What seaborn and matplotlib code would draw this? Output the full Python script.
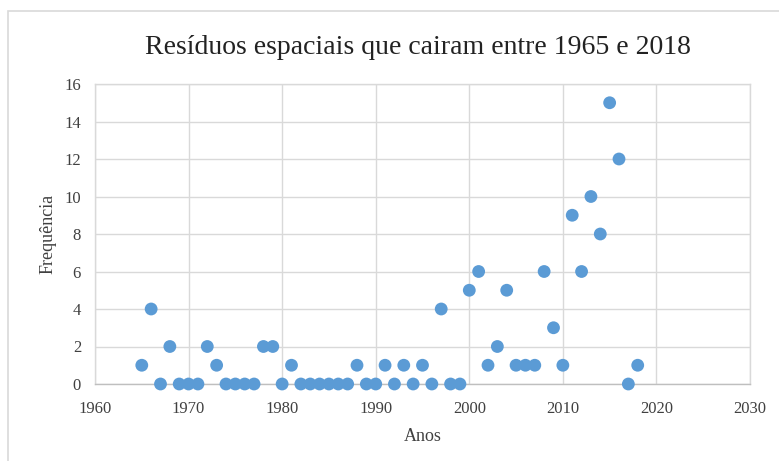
import numpy as np
import pandas as pd
import matplotlib.pyplot as plt
import seaborn as sns
from matplotlib.patches import Rectangle


# ==================================================
# DATA
# ==================================================
anos = list(range(1965, 2019))
frequencia = [
    1, 4, 0, 2, 0, 0, 0, 2, 1, 0,   # 1965-1974
    0, 0, 0, 2, 2, 0, 1, 0, 0, 0,   # 1975-1984
    0, 0, 0, 1, 0, 0, 1, 0, 1, 0,   # 1985-1994
    1, 0, 4, 0, 0, 5, 6, 1, 2, 5,   # 1995-2004
    1, 1, 1, 6, 3, 1, 9, 6, 10, 8,  # 2005-2014
    15, 12, 0, 1,                   # 2015-2018
]
x_ticks = list(range(1960, 2031, 10))
y_ticks = list(range(0, 17, 2))

df = pd.DataFrame({"Anos": anos, "Frequência": frequencia})

# ==================================================
# FIGURE
# ==================================================
sns.set_style("white")
plt.rcParams["font.family"] = ["Liberation Serif", "DejaVu Serif"]

fig = plt.figure(figsize=(7.79, 4.61), dpi=100)
ax = fig.add_axes([95 / 779, 1 - 384 / 461, 655 / 779, 300 / 461])

sns.scatterplot(
    data=df, x="Anos", y="Frequência", ax=ax,
    color="#5B9BD5", s=85, edgecolor="none", zorder=3, clip_on=False
)

ax.set_xlim(1960, 2030)
ax.set_ylim(0, 16)
ax.set_xticks(x_ticks)
ax.set_yticks(y_ticks)
ax.grid(True, color="#d9d9d9", linewidth=1)
ax.tick_params(axis="x", length=0, labelsize=12, colors="#404040", pad=12)
ax.tick_params(axis="y", length=0, labelsize=12, colors="#404040", pad=10)
for sp in ax.spines.values():
    sp.set_color("#d9d9d9")
    sp.set_linewidth(1)
ax.spines["bottom"].set_color("#bfbfbf")

ax.set_xlabel("Anos", fontsize=13, color="#404040", labelpad=8)
ax.set_ylabel("Frequência", fontsize=13, color="#404040", labelpad=6)
fig.text(418 / 779, 1 - 47 / 461, "Resíduos espaciais que cairam entre 1965 e 2018",
         ha="center", va="center", fontsize=20, color="#222222")

# outer chart frame
fig.patches.append(Rectangle((8 / 779, -0.05), 1.0, 1 - 11 / 461 + 0.05,
                             transform=fig.transFigure, fill=False,
                             edgecolor="#d9d9d9", linewidth=1.2))

fig.savefig("out.png", dpi=100)
